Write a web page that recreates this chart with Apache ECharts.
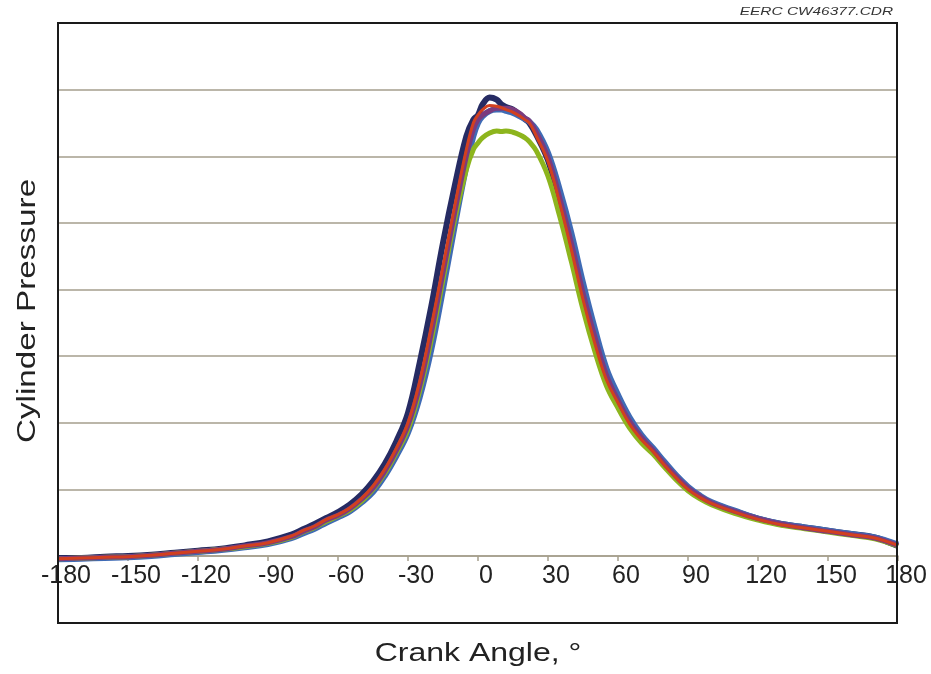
<!DOCTYPE html>
<html>
<head>
<meta charset="utf-8">
<script src="https://cdn.jsdelivr.net/npm/echarts@6/dist/echarts.min.js"></script>
<style>html,body{margin:0;padding:0;background:#fff;}#c{width:931px;height:674px;}</style>
</head>
<body>
<div id="c"></div>
<script>
const angles = [-180,-170,-160,-150,-140,-130,-120,-110,-100,-90,
  -80,-75,-70,-65,-60,-55,-50,-45,-40,-35,-30,-25,-20,-15,-10,-5,
  -2,0,2,
  5,8,10,12,15,18,20,22,25,
  30,35,40,45,50,55,60,65,70,75,80,85,90,95,100,
  110,120,130,140,150,160,170,
  175,180];

const navyVals = [-0.03,-0.03,-0.01,0.0,0.02,0.05,0.08,0.11,0.16,0.22,
  0.32,0.40,0.48,0.57,0.66,0.77,0.92,1.12,1.38,1.72,2.15,2.9,3.75,4.7,5.55,6.3,
  6.55,6.62,6.78,
  6.88,6.85,6.78,6.74,6.7,6.62,6.56,6.5,6.32,
  5.94,5.32,4.62,3.87,3.22,2.67,2.31,1.99,1.76,1.58,1.37,1.18,1.01,0.89,0.8,
  0.67,0.56,0.48,0.43,0.38,0.33,0.28,
  0.22,0.15];

const blueVals = [-0.05,-0.04,-0.03,-0.02,0.0,0.03,0.06,0.09,0.13,0.18,
  0.27,0.34,0.41,0.50,0.58,0.67,0.80,0.96,1.2,1.5,1.85,2.38,3.1,4.0,4.95,5.85,
  6.3,6.5,6.6,
  6.68,6.7,6.7,6.68,6.65,6.6,6.56,6.52,6.4,
  6.05,5.5,4.85,4.1,3.42,2.82,2.42,2.08,1.82,1.62,1.41,1.21,1.04,0.91,0.81,
  0.68,0.56,0.48,0.43,0.38,0.33,0.28,
  0.23,0.17];

const greenVals = [-0.04,-0.03,-0.02,-0.01,0.01,0.04,0.07,0.10,0.14,0.19,
  0.28,0.36,0.43,0.52,0.60,0.69,0.82,1.0,1.24,1.55,1.9,2.48,3.25,4.15,5.05,5.8,
  6.1,6.2,6.28,
  6.35,6.38,6.37,6.38,6.36,6.32,6.28,6.22,6.08,
  5.7,5.1,4.42,3.7,3.08,2.56,2.22,1.92,1.7,1.53,1.33,1.14,0.98,0.86,0.77,
  0.64,0.54,0.46,0.41,0.36,0.31,0.26,
  0.21,0.15];

const purpleVals = [-0.04,-0.03,-0.02,-0.01,0.01,0.04,0.07,0.10,0.15,0.20,
  0.29,0.37,0.44,0.54,0.61,0.71,0.85,1.02,1.27,1.58,1.96,2.55,3.35,4.25,5.15,6.0,
  6.4,6.55,6.62,
  6.68,6.72,6.72,6.72,6.7,6.64,6.58,6.53,6.36,
  5.98,5.38,4.7,3.95,3.3,2.72,2.34,2.02,1.78,1.59,1.38,1.19,1.02,0.9,0.8,
  0.67,0.56,0.48,0.42,0.37,0.32,0.27,
  0.22,0.16];

const redVals = [-0.04,-0.03,-0.02,-0.01,0.01,0.04,0.07,0.10,0.15,0.20,
  0.30,0.38,0.45,0.55,0.62,0.72,0.86,1.05,1.3,1.62,2.0,2.62,3.45,4.35,5.25,6.1,
  6.5,6.62,6.7,
  6.76,6.75,6.73,6.7,6.66,6.6,6.55,6.5,6.3,
  5.92,5.3,4.6,3.85,3.2,2.65,2.3,1.98,1.75,1.57,1.36,1.17,1.0,0.88,0.79,
  0.66,0.55,0.47,0.42,0.37,0.32,0.27,
  0.22,0.16];

const xTitle = 'Crank Angle, °';
const yTitle = 'Cylinder Pressure';
const stamp = 'EERC CW46377.CDR';

const seriesDefs = [
  {name:'Run 1', vals:navyVals, color:'#262b63', w:6},
  {name:'Run 2', vals:blueVals, color:'#3f6bb5', w:6},
  {name:'Run 3', vals:greenVals, color:'#8db51d', w:5},
  {name:'Run 4', vals:purpleVals, color:'#7b3b7e', w:5},
  {name:'Run 5', vals:redVals, color:'#d2401f', w:3}
];

const chart = echarts.init(document.getElementById('c'), null, {renderer:'canvas'});
const gridColor = '#a59e8c';
const font = 'Liberation Sans, Arial, sans-serif';

chart.setOption({
  animation: false,
  backgroundColor: '#ffffff',
  grid: {left:58, right:33, top:23, bottom:118},
  xAxis: {
    type:'value', min:-180, max:180, interval:30,
    axisLine:{show:true, lineStyle:{color:gridColor, width:1.5}},
    axisTick:{show:true, length:5, lineStyle:{color:gridColor, width:1.5}},
    axisLabel:{show:true, showMinLabel:true, showMaxLabel:true, fontSize:25, color:'#222',
      fontFamily:font, margin:8, padding:[0,0,0,16]},
    splitLine:{show:false}
  },
  yAxis: {
    type:'value', min:0, max:8, interval:1,
    axisLine:{show:false}, axisTick:{show:false}, axisLabel:{show:false},
    splitLine:{show:true, lineStyle:{color:gridColor, width:1.5}}
  },
  series: seriesDefs.map(s => ({
    type:'line', name:s.name, showSymbol:false, smooth:0.4, clip:false,
    data: angles.map((a,i) => [a, s.vals[i]]),
    lineStyle:{color:s.color, width:s.w},
    itemStyle:{color:s.color}
  })),
  graphic: [
    {type:'rect', z:100, shape:{x:58, y:23, width:839, height:600},
      style:{fill:'none', stroke:'#1a1a1a', lineWidth:2}},
    {type:'text', z:100, x:478, y:654, scaleX:1.28,
      style:{text:xTitle, font:'25px ' + font, fill:'#222', align:'center', verticalAlign:'middle'}},
    {type:'text', z:100, x:28, y:311, rotation:Math.PI/2, scaleX:1.33,
      style:{text:yTitle, font:'25px ' + font, fill:'#222', align:'center', verticalAlign:'middle'}},
    {type:'text', z:100, x:893, y:12, scaleX:1.4,
      style:{text:stamp, font:'italic 11px ' + font, fill:'#333', align:'right', verticalAlign:'middle'}}
  ]
});
</script>
</body>
</html>
